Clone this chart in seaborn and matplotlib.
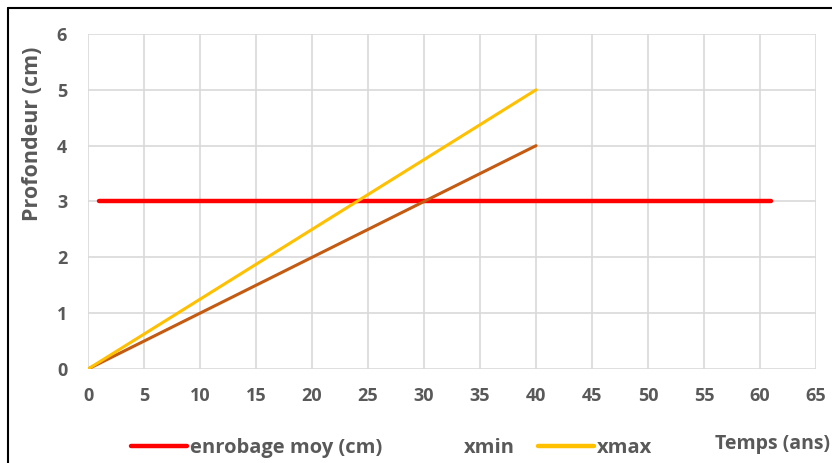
import numpy as np
import pandas as pd
import matplotlib
matplotlib.use("Agg")
import matplotlib.pyplot as plt
import seaborn as sns
from matplotlib.lines import Line2D

# données
temps_enrobage = [1, 61]
enrobage_moy = [3, 3]
temps = [0, 10, 20, 30, 40]
xmin = [0, 1, 2, 3, 4]
xmax = [0, 1.25, 2.5, 3.75, 5]

xticks = list(range(0, 66, 5))
yticks = list(range(0, 7))

sns.set_theme(style="whitegrid")
plt.rcParams['font.family'] = ['Open Sans', 'DejaVu Sans']
plt.rcParams['font.weight'] = 'bold'

gris = "#595959"
police = {"family": "Open Sans", "weight": "bold"}
fig = plt.figure(figsize=(8.32, 4.63), dpi=100)
ax = fig.add_axes([0.1058, 0.203, 0.875, 0.7236])

df_e = pd.DataFrame({"t": temps_enrobage, "v": enrobage_moy})
df_x = pd.DataFrame({"t": temps, "xmin": xmin, "xmax": xmax})

sns.lineplot(data=df_e, x="t", y="v", ax=ax, color="#FF0000", linewidth=3.2,
             solid_capstyle="round", label="enrobage moy (cm)")
sns.lineplot(data=df_x, x="t", y="xmin", ax=ax, color="#C55A11", linewidth=2.2,
             solid_capstyle="round", label="xmin")
sns.lineplot(data=df_x, x="t", y="xmax", ax=ax, color="#FFC000", linewidth=2.2,
             solid_capstyle="round", label="xmax")

ax.set_xlim(0, 65)
ax.set_ylim(0, 6)
ax.set_xticks(xticks)
ax.set_yticks(yticks)
ax.grid(True, color="#D9D9D9", linewidth=1.2)
for s in ax.spines.values():
    s.set_visible(False)
ax.tick_params(axis="both", length=0, labelcolor=gris)
ax.tick_params(axis="x", pad=13)
ax.tick_params(axis="y", pad=15)
for lab in ax.get_xticklabels() + ax.get_yticklabels():
    lab.set_fontproperties(police)
    lab.set_fontsize(13)

ax.set_xlabel("")
ax.set_ylabel("Profondeur (cm)", fontsize=15.5, fontweight="bold", color=gris)
ax.yaxis.set_label_coords(-0.062, 0.703)

# légende en bas (la poignée de xmin est invisible comme sur l'original)
ax.get_legend().remove()
handles = [
    Line2D([0], [0], color="#FF0000", linewidth=3.2, solid_capstyle="round"),
    Line2D([0], [0], color="white", linewidth=0),
    Line2D([0], [0], color="#FFC000", linewidth=3.2, solid_capstyle="round"),
]
leg = fig.legend(handles, ["enrobage moy (cm)", "xmin", "xmax"], loc="center",
                 bbox_to_anchor=(0.471, 0.032), ncol=3, frameon=False,
                 handlelength=2.77, handletextpad=0.15, columnspacing=1.15,
                 prop={"family": "Open Sans", "weight": "bold", "size": 14.5})
for t in leg.get_texts():
    t.set_color(gris)

fig.text(0.859, 0.041, "Temps (ans)", fontsize=14, fontweight="bold", color=gris,
         ha="left", va="center")

# cadre du graphique (bords gauche et haut visibles)
fig.add_artist(Line2D([0.0096, 0.0096], [0, 0.983], color="black", linewidth=1.5,
                      transform=fig.transFigure))
fig.add_artist(Line2D([0.0096, 1.0], [0.983, 0.983], color="black", linewidth=1.5,
                      transform=fig.transFigure))

fig.savefig("out.png", dpi=100)
